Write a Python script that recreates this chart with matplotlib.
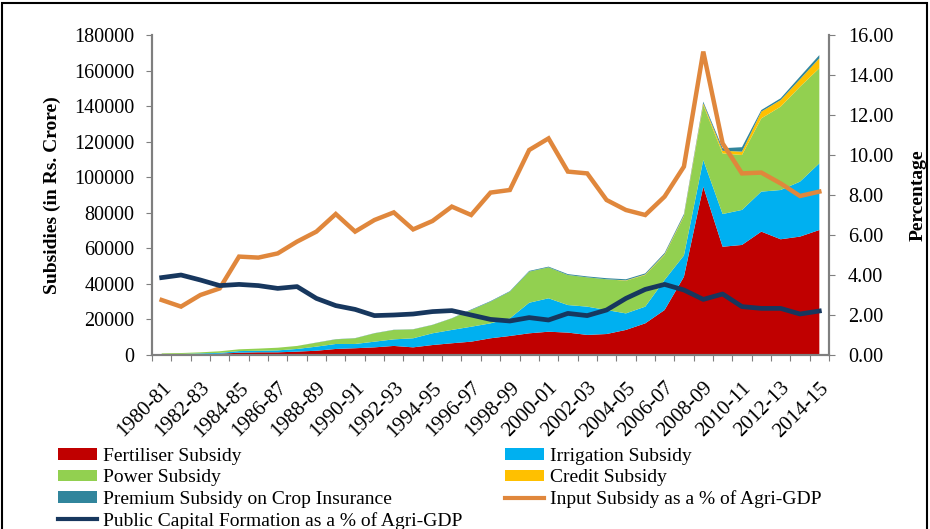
import numpy as np
import matplotlib
matplotlib.use('Agg')
import matplotlib.pyplot as plt
from matplotlib.patches import Patch, Rectangle
from matplotlib.lines import Line2D

plt.rcParams['font.family'] = ['Liberation Serif', 'DejaVu Serif']

# ----------------------------------
# Data: input subsidies (Rs. Crore) and shares of Agri-GDP (%)
# ----------------------------------

years = ['1980-81', '1981-82', '1982-83', '1983-84', '1984-85', '1985-86', '1986-87',
         '1987-88', '1988-89', '1989-90', '1990-91', '1991-92', '1992-93', '1993-94',
         '1994-95', '1995-96', '1996-97', '1997-98', '1998-99', '1999-00', '2000-01',
         '2001-02', '2002-03', '2003-04', '2004-05', '2005-06', '2006-07', '2007-08',
         '2008-09', '2009-10', '2010-11', '2011-12', '2012-13', '2013-14', '2014-15']

fertiliser = [200, 300, 500, 700, 1300, 1500, 1500, 1900, 2400, 3400, 3800, 4300, 5100, 4300,
              5600, 6600, 7500, 9400, 10700, 12200, 13100, 12600, 11300, 11800, 14100, 17800,
              25300, 44000, 94700, 60900, 61900, 69400, 65100, 66600, 70300]
irrigation = [300, 300, 400, 500, 900, 900, 1100, 1500, 2300, 2800, 2400, 3200, 3700, 5100,
              6600, 7500, 8400, 8400, 9900, 17200, 18800, 15500, 15900, 13500, 9300, 9400,
              16900, 12000, 15000, 18400, 19700, 22500, 27700, 30900, 37500]
power = [400, 500, 600, 900, 1000, 1200, 1500, 1700, 2200, 2600, 3200, 4700, 5300, 5000,
         4700, 6500, 9400, 12200, 15000, 17500, 17400, 16900, 16500, 17300, 18400, 17800,
         14100, 22000, 30900, 34100, 30900, 41200, 46900, 53400, 53500]
credit = [0, 0, 0, 0, 0, 0, 0, 0, 0, 0, 0, 0, 0, 0, 0, 0, 0, 0, 0, 0, 0, 0, 0, 0,
          200, 300, 400, 500, 1000, 1500, 1900, 3800, 3700, 4200, 5600]
premium = [0, 0, 0, 0, 0, 0, 0, 0, 100, 100, 100, 100, 100, 100, 100, 100, 300, 300, 300,
           400, 400, 500, 500, 600, 600, 600, 700, 800, 900, 1400, 2500, 900, 1000, 1500, 1800]

input_share = [2.75, 2.42, 3.0, 3.33, 4.92, 4.87, 5.08, 5.67, 6.17, 7.05, 6.17, 6.75, 7.13,
               6.28, 6.7, 7.42, 7.0, 8.12, 8.25, 10.25, 10.83, 9.17, 9.08, 7.75, 7.25, 7.0,
               7.92, 9.42, 15.17, 10.58, 9.08, 9.12, 8.58, 7.95, 8.17]
capital_share = [3.87, 4.0, 3.75, 3.47, 3.53, 3.47, 3.33, 3.42, 2.83, 2.47, 2.28, 1.97, 2.0,
                 2.05, 2.17, 2.22, 2.0, 1.78, 1.7, 1.87, 1.75, 2.08, 1.97, 2.25, 2.83, 3.28,
                 3.53, 3.25, 2.78, 3.05, 2.42, 2.33, 2.33, 2.05, 2.2]

labels = ['Fertiliser Subsidy', 'Irrigation Subsidy', 'Power Subsidy', 'Credit Subsidy',
          'Premium Subsidy on Crop Insurance']
colors = ['#C00000', '#00B0F0', '#92D050', '#FFC000', '#31859C']
orange = '#E0873C'
navy = '#17375E'
grey = '#7F7F7F'

x = np.arange(len(years)) + 0.5

# ----------------------------------
# Figure and axes
# ----------------------------------

fig = plt.figure(figsize=(9.3, 5.29), dpi=100)
ax = fig.add_axes([152 / 930, 1 - 355 / 529, (829 - 152) / 930, (355 - 35) / 529])

ax.stackplot(x, fertiliser, irrigation, power, credit, premium, colors=colors, linewidth=0)
ax.set_xlim(0, len(years))
ax.set_ylim(0, 180000)
ax.set_yticks(np.arange(0, 180001, 20000))
ax.set_ylabel('Subsidies (in Rs. Crore)', fontsize=14, fontweight='bold', labelpad=10)

# ticks at category boundaries, labels on every other year
ax.set_xticks(np.arange(0, len(years) + 1))
ax.set_xticklabels([])
ax.set_xticks(x[::2], minor=True)
ax.set_xticklabels(years[::2], minor=True, rotation=45, ha='right', rotation_mode='anchor',
                   fontsize=15)
ax.tick_params(axis='x', which='minor', length=0, pad=17)
ax.tick_params(axis='x', which='major', length=4.5, color=grey)
ax.tick_params(axis='y', length=4.5, color=grey, labelsize=14.5, pad=8)

ax2 = ax.twinx()
ax2.plot(x, input_share, color=orange, linewidth=3.2, solid_joinstyle='miter')
ax2.plot(x, capital_share, color=navy, linewidth=3.4)
ax2.set_ylim(0, 16)
ax2.set_yticks(np.arange(0, 16.01, 2))
ax2.set_yticklabels([f'{v:.2f}' for v in np.arange(0, 16.01, 2)])
ax2.tick_params(axis='y', length=4.5, color=grey, labelsize=14.5, pad=9)
ax2.set_ylabel('Percentage', fontsize=14, fontweight='bold', labelpad=12)

for a in (ax, ax2):
    a.spines['top'].set_visible(False)
    for side in ('left', 'right', 'bottom'):
        a.spines[side].set_color(grey)
        a.spines[side].set_linewidth(1.5)

# ----------------------------------
# Legend in two columns below the plot
# ----------------------------------

patches = [Patch(facecolor=c, edgecolor='none') for c in colors]
line_input = Line2D([], [], color=orange, linewidth=3)
line_capital = Line2D([], [], color=navy, linewidth=3)

legend_kw = dict(frameon=False, fontsize=14, handlelength=2.0, handleheight=0.55,
                 handletextpad=0.3, labelspacing=0.22, borderpad=0, borderaxespad=0,
                 loc='upper left')
fig.legend([patches[0], patches[2], patches[4], line_capital],
           [labels[0], labels[2], labels[4], 'Public Capital Formation as a % of Agri-GDP'],
           bbox_to_anchor=(58 / 930, 1 - 448 / 529), **legend_kw)
fig.legend([patches[1], patches[3], line_input],
           [labels[1], labels[3], 'Input Subsidy as a % of Agri-GDP'],
           bbox_to_anchor=(505 / 930, 1 - 448 / 529), **legend_kw)

# outer frame
fig.patches.append(Rectangle((0.002, -0.05), 0.995, 1.045, transform=fig.transFigure,
                             fill=False, edgecolor='black', linewidth=1.5))

fig.savefig('out.png', dpi=100)
